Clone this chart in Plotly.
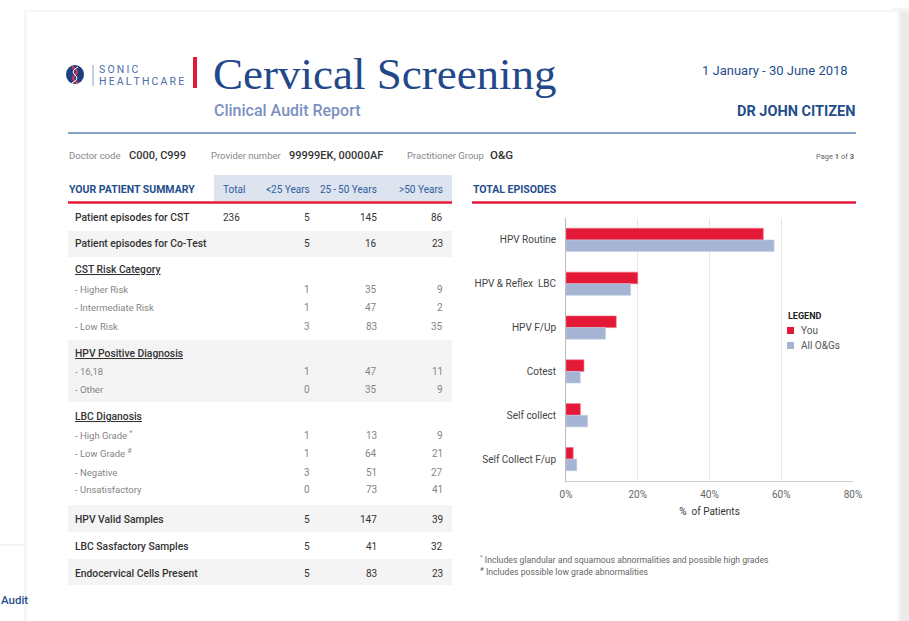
import plotly.graph_objects as go

W, H = 909, 621

# ---------------- data ----------------
categories = ["HPV Routine", "HPV & Reflex  LBC", "HPV F/Up", "Cotest", "Self collect", "Self Collect F/up"]
you_pct = [55, 20, 14, 5, 4, 2]
all_og_pct = [58, 18, 11, 4, 6, 3]
x_ticks = [0, 20, 40, 60, 80]
x_tick_labels = ["0%", "20%", "40%", "60%", "80%"]

table_headers = ["Total", "<25 Years", "25\u2009-\u200950 Years", ">50 Years"]
row_labels = ["Patient episodes for CST", "Patient episodes for Co-Test", "CST Risk Category",
              "- Higher Risk", "- Intermediate Risk", "- Low Risk", "HPV Positive Diagnosis",
              "- 16,18", "- Other", "LBC Diganosis", "- High Grade <sup>*</sup>", "- Low Grade <sup>#</sup>",
              "- Negative", "- Unsatisfactory", "HPV Valid Samples", "LBC Sasfactory Samples",
              "Endocervical Cells Present"]
row_kind = ["main", "main", "section", "sub", "sub", "sub", "section", "sub", "sub", "section",
            "sub", "sub", "sub", "sub", "main", "main", "main"]
total_col = [236, None, None, None, None, None, None, None, None, None, None, None, None, None, None, None, None]
under25 = [5, 5, None, 1, 1, 3, None, 1, 0, None, 1, 1, 3, 0, 5, 5, 5]
age25_50 = [145, 16, None, 35, 47, 83, None, 47, 35, None, 13, 64, 51, 73, 147, 41, 83]
over50 = [86, 23, None, 9, 2, 35, None, 11, 9, None, 9, 21, 27, 41, 39, 32, 23]

# ---------------- layout helpers (pixel -> paper) ----------------
def X(px):
    return px / W

def Y(py):
    return 1 - py / H

row_y = [217, 244, 270, 289, 307, 326, 353, 371, 389, 416, 435, 453, 472, 490, 519, 546, 573]
shaded_bands = [(231, 257), (340, 402), (505, 532), (559, 585)]

BLUE = "#1f4e8c"
RED = "#e31937"
LBLUE = "#a6b4d4"
FONT = "Roboto"

shapes = []
annotations = []

def rect(x0, y0, x1, y1, fill, line=None, lw=0, layer="below"):
    shapes.append(dict(type="rect", xref="paper", yref="paper", x0=X(x0), x1=X(x1), y0=Y(y1), y1=Y(y0),
                       fillcolor=fill, line=dict(width=lw, color=line or fill), layer=layer))

def hline(x0, x1, y, color, width):
    shapes.append(dict(type="line", xref="paper", yref="paper", x0=X(x0), x1=X(x1), y0=Y(y), y1=Y(y),
                       line=dict(color=color, width=width), layer="below"))

def text(x, y, s, size=10, color="#333", xanchor="left", family=FONT, weight=None):
    f = dict(size=size, color=color, family=family)
    if weight:
        f["weight"] = weight
    annotations.append(dict(xref="paper", yref="paper", x=X(x), y=Y(y), text=s, showarrow=False,
                            xanchor=xanchor, yanchor="middle", font=f, borderpad=0))

# background / card
rect(0, 0, W, H, "#ffffff")
hline(0, 26, 545, "#e9e9e9", 1)
text(0, 600, "Audit", size=11.5, color=BLUE, weight=500)
rect(893, 8, 909, H, "#f3f3f3")
rect(897, 12, 909, H, "#ebebeb")
rect(24, 10, 900, H, "#f6f6f6")
rect(27, 12, 897, H, "#ffffff")

# logo
shapes.append(dict(type="circle", xref="paper", yref="paper", x0=X(66), x1=X(84), y0=Y(84), y1=Y(65),
                   fillcolor="#1f3f80", line=dict(width=0), layer="below"))
shapes.append(dict(type="path", xref="paper", yref="paper",
                   path="M %f %f Q %f %f %f %f Q %f %f %f %f" % (X(72), Y(67), X(80), Y(71), X(75), Y(75),
                                                              X(70), Y(79), X(78), Y(83)),
                   line=dict(color="#e8344a", width=2), layer="below"))
shapes.append(dict(type="path", xref="paper", yref="paper",
                   path="M %f %f Q %f %f %f %f Q %f %f %f %f" % (X(78), Y(67), X(70), Y(71), X(75), Y(75),
                                                              X(80), Y(79), X(72), Y(83)),
                   line=dict(color="#ffffff", width=1), layer="below"))
shapes.append(dict(type="line", xref="paper", yref="paper", x0=X(93), x1=X(93), y0=Y(86), y1=Y(65),
                   line=dict(color="#8da0c4", width=1), layer="below"))
text(98, 69, "\u2009".join("SONIC"), size=10.5, color="#4b6ea6")
text(98, 81, "\u2009".join("HEALTHCARE"), size=10.5, color="#4b6ea6")
rect(193, 57, 197, 88, RED)

# title block
text(212, 74, "Cervical Screening", size=45, color="#22488a", family="Liberation Serif")
text(213, 110, "Clinical Audit Report", size=16, color="#7b90c0", weight=500)
text(849, 70, "1 January - 30 June 2018", size=13, color=BLUE, xanchor="right")
text(856, 111, "DR JOHN CITIZEN", size=14.5, color=BLUE, xanchor="right", weight=700)
hline(68, 856, 133, "#5f84b5", 1.5)

# info line
text(68, 155, "Doctor code", size=9.5, color="#888")
text(128, 155, "C000, C999", size=11, color="#333", weight=500)
text(210, 155, "Provider number", size=9.5, color="#888")
text(288, 155, "99999EK, 00000AF", size=11, color="#333", weight=500)
text(406, 155, "Practitioner Group", size=9.5, color="#888")
text(489, 155, "O&G", size=11.5, color="#333", weight=500)
text(855, 156, "Page <b>1</b> of <b>3</b>", size=7.5, color="#666", xanchor="right")

# table
rect(214, 175, 452, 201, "#dde3ef")
hline(68, 452, 202.5, RED, 2.5)
text(68, 189, "YOUR PATIENT SUMMARY", size=10.5, color=BLUE, weight=700)
header_x = [222, 311, 378, 444]
header_anchor = ["left", "right", "right", "right"]
for hx, ha, ht in zip(header_x, header_anchor, table_headers):
    text(hx, 189, ht, size=10, color="#2e5e9e", xanchor=ha)
for y0, y1 in shaded_bands:
    rect(68, y0, 452, y1, "#f4f4f4")

columns = [total_col, under25, age25_50, over50]
for i, lab in enumerate(row_labels):
    kind = row_kind[i]
    y = row_y[i]
    if kind == "main":
        text(74, y, lab, size=10.3, color="#333", weight=500)
        col = "#333"
    elif kind == "section":
        text(74, y, "<u>" + lab + "</u>", size=10.3, color="#333", weight=500)
        col = "#333"
    else:
        text(74, y, lab, size=9.5, color="#858585")
        col = "#858585"
    for hx, ha, colvals in zip(header_x, header_anchor, columns):
        v = colvals[i]
        if v is not None:
            text(hx, y, str(v), size=10, color=col, xanchor=ha)

# chart section header
text(472, 189, "TOTAL EPISODES", size=10.5, color=BLUE, weight=700)
hline(472, 856, 202.5, RED, 2.5)

# legend (manual)
text(787, 316, "LEGEND", size=9, color="#222", weight=700)
rect(787, 327, 794, 334, RED)
text(800, 330, "You", size=10, color="#555")
rect(787, 342, 794, 349, LBLUE)
text(800, 345, "All O&Gs", size=10, color="#555")

# footnotes
text(479, 559, "<sup>*</sup> Includes glandular and squamous abnormalities and possible high grades", size=8.7, color="#666")
text(479, 571, "<sup>#</sup> Includes possible low grade abnormalities", size=8.7, color="#666")

fig = go.Figure()
fig.add_trace(go.Bar(y=categories, x=you_pct, orientation="h", name="You",
                     marker=dict(color=RED, line=dict(color="#f07080", width=0.6))))
fig.add_trace(go.Bar(y=categories, x=all_og_pct, orientation="h", name="All O&Gs",
                     marker=dict(color=LBLUE, line=dict(color="#c5cfe4", width=0.6))))

fig.update_layout(
    width=W, height=H,
    margin=dict(l=0, r=0, t=0, b=0, pad=0, autoexpand=False),
    paper_bgcolor="#ffffff", plot_bgcolor="rgba(0,0,0,0)",
    barmode="group", bargap=0.47, bargroupgap=0,
    showlegend=False,
    font=dict(family=FONT, color="#555"),
    shapes=shapes, annotations=annotations,
    xaxis=dict(domain=[X(566), X(853)], range=[0, 80], tickvals=x_ticks, ticktext=x_tick_labels,
               showgrid=True, gridcolor="#e6e6e6", gridwidth=1, zeroline=False, automargin=False,
               showline=True, linecolor="#cccccc", linewidth=1,
               ticks="", tickfont=dict(size=10, color="#666"), ticklabelstandoff=4,
               title=dict(text="%  of Patients", font=dict(size=10, color="#333"), standoff=8),
               fixedrange=True),
    yaxis=dict(domain=[Y(481), Y(218)], autorange="reversed", categoryorder="array",
               categoryarray=categories, showgrid=False, showline=True, linecolor="#bbbbbb",
               linewidth=1, ticks="", tickfont=dict(size=10, color="#444"), ticklabelstandoff=7,
               automargin=False, fixedrange=True),
)

fig.write_html("out.html", config={"displayModeBar": False},
               post_script="document.body.style.margin='0';document.body.style.overflow='hidden';")
